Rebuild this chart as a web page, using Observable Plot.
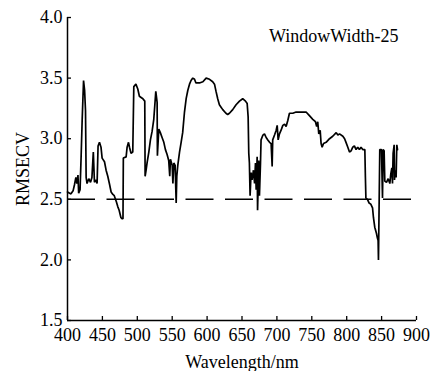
<!DOCTYPE html>
<html>
<head>
<meta charset="utf-8">
<script src="https://cdn.jsdelivr.net/npm/d3@7"></script>
<script src="https://cdn.jsdelivr.net/npm/@observablehq/plot@0.6"></script>
<style>
  html, body { margin: 0; padding: 0; background: #fff; }
  #chart svg { display: block; }
</style>
</head>
<body>
<div id="chart"></div>
<script>
// RMSECV of the moving-window model versus window centre wavelength
const wavelength = [
  400, 403, 405, 408, 410, 412, 413.5, 415, 416, 418, 419.5, 421, 423, 424.5, 425.8, 426.7,
  428, 430.5, 433, 435, 437, 438.6, 441, 442.4, 443.8, 445.8, 448, 449.6, 453, 455.3, 457.7,
  460, 462.5, 465, 467, 470, 472, 474, 476.5, 478, 479.5, 480, 484, 485.4, 487.4, 488.8, 491,
  493.5, 495, 498, 500.7, 503, 505.5, 508, 510.7, 511.2, 512.6, 514, 516.5, 518.8, 521.2,
  523.6, 525, 526.5, 528.4, 528.8, 530.8, 533, 535.5, 538, 540.3, 542.7, 545, 546.5, 547.5,
  550, 551, 552.3, 554.2, 555.7, 556.6, 558, 560.5, 562.8, 565, 567.6, 570, 572.4, 574.8,
  577, 579.5, 582, 584, 589, 594, 598.6, 603.5, 608, 610.6, 612.8, 615.2, 617.6, 620, 622.4,
  627, 629.5, 632, 636.7, 641.5, 646.4, 651, 655, 657.4, 658.8, 659.7, 660.6, 661.6, 663,
  664.4, 666.4, 668, 669.3, 670.3, 671.7, 672.3, 674, 675, 676.5, 677.3, 680, 682.2, 684.6,
  687, 689.5, 691.7, 693.2, 694, 696.6, 699, 700.4, 701.8, 703.7, 706, 708.5, 711, 713.2,
  715.6, 718, 722.8, 727.5, 732.4, 737, 741.8, 746.6, 751.4, 755.2, 757, 758.5, 760, 762,
  763.3, 764.8, 766.8, 770.5, 775.4, 780, 785, 787.3, 789.7, 794.5, 797, 799, 801.6, 804,
  806.3, 808.7, 811, 813.4, 815.8, 818.2, 820.5, 823, 826, 826.8, 827.5, 829.7, 832, 834.5,
  837, 838.3, 840.2, 842.6, 844, 845, 845.5, 846.4, 847.4, 849.8, 851.3, 852.2, 853.6, 854.6,
  857, 859.4, 861.8, 863.2, 864.7, 865.6, 866.5, 868, 868.5, 869.4, 870.8, 871.8, 872.8
];
const rmsecv = [
  2.56, 2.55, 2.545, 2.57, 2.62, 2.68, 2.63, 2.70, 2.55, 2.58, 2.85, 3.15, 3.48, 3.40, 3.23, 2.68,
  2.63, 2.67, 2.64, 2.68, 2.89, 2.64, 2.66, 2.63, 2.94, 2.97, 2.93, 2.84, 2.81, 2.74, 2.69,
  2.63, 2.56, 2.54, 2.53, 2.48, 2.44, 2.41, 2.35, 2.34, 2.34, 2.84, 2.85, 2.93, 2.97, 2.93, 2.88,
  2.89, 3.43, 3.45, 3.41, 3.35, 3.34, 3.33, 3.31, 2.69, 2.74, 2.80, 2.89, 2.99, 3.06,
  3.16, 3.27, 3.39, 3.30, 2.86, 3.08, 3.05, 3.01, 2.97, 2.91, 2.87, 2.82, 2.69, 2.83,
  2.78, 2.63, 2.80, 2.78, 2.47, 2.69, 2.78, 2.89, 2.97, 3.05, 3.22, 3.33, 3.40, 3.45,
  3.48, 3.50, 3.49, 3.46, 3.46, 3.47, 3.50, 3.49, 3.47, 3.45, 3.39, 3.33, 3.28, 3.26, 3.24,
  3.21, 3.20, 3.21, 3.24, 3.28, 3.31, 3.33, 3.31, 3.29, 3.18, 2.88, 2.80, 2.53, 2.72,
  2.66, 2.74, 2.63, 2.80, 2.58, 2.85, 2.41, 2.82, 2.53, 2.80, 2.99, 3.03, 3.04, 3.01,
  2.99, 2.97, 2.96, 2.77, 2.99, 3.03, 3.07, 3.11, 2.99, 3.04, 3.07, 3.11, 3.12, 3.10,
  3.15, 3.21, 3.21, 3.22, 3.22, 3.22, 3.22, 3.19, 3.16, 3.14, 3.10, 3.14, 3.04, 3.07,
  2.96, 2.93, 2.96, 2.97, 3.00, 3.02, 3.05, 3.03, 3.04, 3.02, 3.00, 2.97, 2.93, 2.89,
  2.90, 2.93, 2.94, 2.91, 2.93, 2.91, 2.93, 2.91, 2.91, 2.68, 2.51, 2.50, 2.47, 2.46,
  2.43, 2.35, 2.27, 2.22, 2.18, 2.16, 2.00, 2.43, 2.91, 2.91, 2.51, 2.91, 2.90, 2.65,
  2.64, 2.67, 2.63, 2.71, 2.76, 2.63, 2.88, 2.95, 2.66, 2.74, 2.68, 2.95, 2.91
];
const threshold = [2.5];
const xTicks = [400, 450, 500, 550, 600, 650, 700, 750, 800, 850, 900];
const yTicks = [1.5, 2.0, 2.5, 3.0, 3.5, 4.0];
const windowLabel = ["WindowWidth-25"];
const xLabel = ["Wavelength/nm"];
const yLabel = ["RMSECV"];

const W = 432, H = 371;
const M = {top: 17, right: 16, bottom: 51, left: 67};
const frameW = W - M.left - M.right;
const frameH = H - M.top - M.bottom;

const series = wavelength.map((w, i) => ({w, v: rmsecv[i]}));

const chart = Plot.plot({
  width: W,
  height: H,
  marginTop: M.top,
  marginRight: M.right,
  marginBottom: M.bottom,
  marginLeft: M.left,
  style: {fontFamily: "'Liberation Serif', 'Times New Roman', serif", fontSize: "18px", color: "#000", background: "#fff"},
  x: {domain: [400, 900], ticks: xTicks, tickFormat: d => String(d), tickSize: 0, tickPadding: 8, label: null},
  y: {domain: [1.5, 4.0], ticks: yTicks, tickFormat: d3.format(".1f"), tickSize: 0, tickPadding: 5, label: null},
  marks: [
    Plot.ruleY(threshold, {y: d => d, stroke: "#000", strokeWidth: 1.6, strokeDasharray: "28,11.5"}),
    Plot.line(series, {x: "w", y: "v", stroke: "#000", strokeWidth: 1.7, strokeLinejoin: "miter"}),
    Plot.ruleX([400], {x: d => d, stroke: "#000", strokeWidth: 1.5}),
    Plot.ruleY([1.5], {y: d => d, stroke: "#000", strokeWidth: 1.5}),
    Plot.tickX(xTicks, {x: d => d, insetTop: frameH - 4, stroke: "#000", strokeWidth: 1.3}),
    Plot.tickY(yTicks, {y: d => d, insetRight: frameW - 4, stroke: "#000", strokeWidth: 1.3}),
    Plot.text(windowLabel, {text: d => d, frameAnchor: "top-right", textAnchor: "end", lineAnchor: "bottom", dx: -18, dy: 24, fontSize: 18, fill: "#000"}),
    Plot.text(xLabel, {text: d => d, frameAnchor: "bottom", textAnchor: "middle", lineAnchor: "bottom", dy: 47, fontSize: 18, fill: "#000"}),
    Plot.text(yLabel, {text: d => d, frameAnchor: "left", textAnchor: "middle", lineAnchor: "bottom", rotate: -90, dx: -39, fontSize: 18, fill: "#000"})
  ]
});

document.getElementById("chart").appendChild(chart);
</script>
</body>
</html>
